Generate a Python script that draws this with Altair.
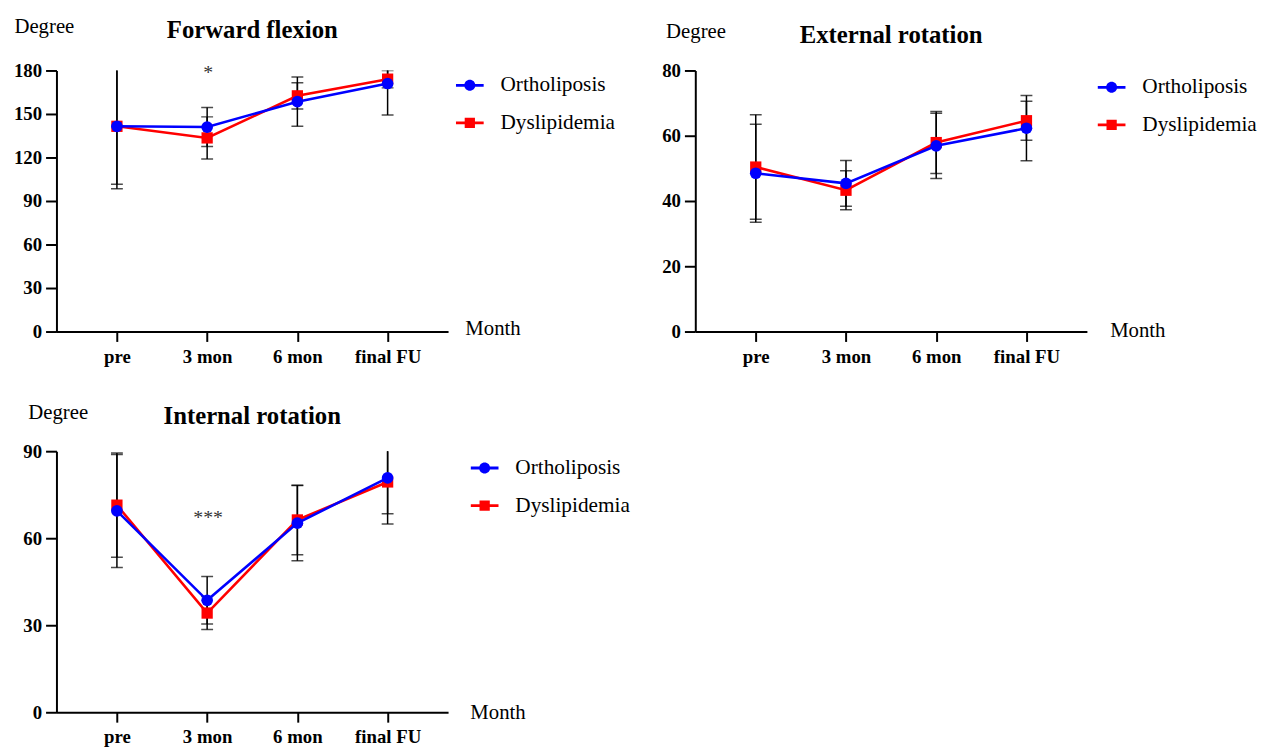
import altair as alt
import pandas as pd

FONT = "Liberation Serif"

categories = ["pre", "3 mon", "6 mon", "final FU"]
series_names = ["Ortholiposis", "Dyslipidemia"]
series_colors = ["#0000ff", "#ff0000"]

# Forward flexion
ff_orth_mean = [141.5, 141.0, 158.5, 171.0]
ff_orth_sd = [43.0, 13.5, 17.0, 21.7]
ff_dys_mean = [141.5, 133.5, 162.5, 174.0]
ff_dys_sd = [40.0, 14.5, 9.0, 6.0]

# External rotation
er_orth_mean = [48.5, 45.4, 56.9, 62.3]
er_orth_sd = [15.0, 7.0, 10.0, 10.0]
er_dys_mean = [50.4, 43.3, 57.9, 64.6]
er_dys_sd = [16.0, 6.0, 9.5, 6.0]

# Internal rotation
ir_orth_mean = [69.4, 38.6, 65.2, 80.8]
ir_orth_sd = [19.5, 8.2, 13.0, 15.9]
ir_dys_mean = [71.4, 34.2, 66.3, 79.4]
ir_dys_sd = [18.0, 5.7, 12.0, 11.0]

# significance annotations: (category, label, y in degrees)
ff_annot = [("3 mon", "*", 174)]
ir_annot = [("3 mon", "***", 65)]

CIRCLE_LEG = ("M-1,-0.1 L1,-0.1 L1,0.1 L-1,0.1 Z "
              "M0.4,0 A0.4,0.4 0 1,1 -0.4,0 A0.4,0.4 0 1,1 0.4,0 Z")
SQUARE_LEG = ("M-1,-0.1 L1,-0.1 L1,0.1 L-1,0.1 Z "
              "M-0.37,-0.37 L0.37,-0.37 L0.37,0.37 L-0.37,0.37 Z")


def make_df(om, osd, dm, dsd):
    rows = []
    for name, m, s in [("Ortholiposis", om, osd), ("Dyslipidemia", dm, dsd)]:
        for c, mv, sv in zip(categories, m, s):
            rows.append({"cat": c, "series": name, "mean": mv,
                         "lo": mv - sv, "hi": mv + sv})
    return pd.DataFrame(rows)


def panel(title, ymax, yticks, om, osd, dm, dsd, annot, degx, degy, legx, legy,
          monthx, monthy):
    df = make_df(om, osd, dm, dsd)
    xaxis = alt.Axis(title="Month", titleX=monthx, titleY=monthy, titleAlign="left",
                     titleBaseline="alphabetic", titleFont=FONT, titleFontSize=21,
                     titleFontWeight="normal", titleColor="black",
                     labelAngle=0, labelFont=FONT, labelFontSize=19,
                     labelFontWeight="bold", labelColor="black", labelPadding=6,
                     tickSize=10, tickWidth=2, tickColor="black",
                     domainColor="black", domainWidth=2, grid=False)
    yaxis = alt.Axis(values=yticks, title="Degree", titleAngle=0, titleAlign="left",
                     titleBaseline="alphabetic", titleX=degx, titleY=degy,
                     titleFont=FONT, titleFontSize=21, titleFontWeight="normal",
                     titleColor="black", labelFont=FONT, labelFontSize=19,
                     labelFontWeight="bold", labelColor="black", labelPadding=4,
                     tickSize=11, tickWidth=2, tickColor="black",
                     domainColor="black", domainWidth=2, grid=False)
    xs = alt.Scale(type="point", domain=categories, padding=0.67)
    ys = alt.Scale(domain=[0, ymax], nice=False, zero=True)
    X = alt.X("cat:N", scale=xs, axis=xaxis, sort=categories)

    base = alt.Chart(df)
    bars = base.mark_rule(color="black", strokeWidth=1.5, clip=True).encode(
        x=X, y=alt.Y("lo:Q", scale=ys, axis=yaxis), y2="hi:Q")
    cap_lo = base.mark_tick(color="black", size=12, thickness=1.5, clip=True).encode(
        x=X, y=alt.Y("lo:Q", scale=ys, axis=yaxis))
    cap_hi = base.mark_tick(color="black", size=12, thickness=1.5, clip=True).encode(
        x=X, y=alt.Y("hi:Q", scale=ys, axis=yaxis))

    def series_layers(name, color, shape, size):
        b = base.transform_filter(alt.datum.series == name)
        ln = b.mark_line(color=color, strokeWidth=2.6).encode(
            x=X, y=alt.Y("mean:Q", scale=ys, axis=yaxis))
        pt = b.mark_point(color=color, filled=True, opacity=1, shape=shape,
                          size=size).encode(x=X, y=alt.Y("mean:Q", scale=ys, axis=yaxis))
        return [ln, pt]

    leg = alt.Legend(orient="none", legendX=legx, legendY=legy, title=None,
                     labelFont=FONT, labelFontSize=21.5, labelColor="black",
                     symbolSize=784, symbolStrokeWidth=0, labelOffset=17,
                     rowPadding=13, symbolOpacity=1)
    legend_layer = base.transform_filter("false").mark_point(filled=True, opacity=1).encode(
        x=X, y=alt.Y("mean:Q", scale=ys, axis=yaxis),
        color=alt.Color("series:N", scale=alt.Scale(domain=series_names, range=series_colors), legend=leg),
        shape=alt.Shape("series:N", scale=alt.Scale(domain=series_names, range=[CIRCLE_LEG, SQUARE_LEG]), legend=leg))

    layers = [bars, cap_lo, cap_hi]
    layers += series_layers("Dyslipidemia", "#ff0000", "square", 130)
    layers += series_layers("Ortholiposis", "#0000ff", "circle", 140)
    layers.append(legend_layer)
    if annot:
        adf = pd.DataFrame([{"cat": a[0], "label": a[1], "y": a[2]} for a in annot])
        txt = alt.Chart(adf).mark_text(font=FONT, fontSize=20, color="#333333",
                                       baseline="alphabetic", align="center", dx=1).encode(
            x=X, y=alt.Y("y:Q", scale=ys, axis=yaxis), text="label:N")
        layers.append(txt)

    return alt.layer(*layers).properties(
        width=396, height=264,
        title=alt.TitleParams(title, font=FONT, fontSize=25, fontWeight="bold",
                              color="black", anchor="middle", frame="group",
                              offset=6, dy=33))


p1 = panel("Forward flexion", 180, [0, 30, 60, 90, 120, 150, 180],
           ff_orth_mean, ff_orth_sd, ff_dys_mean, ff_dys_sd, ff_annot, -43, -38, 404, 1, 413, 3)
p2 = panel("External rotation", 80, [0, 20, 40, 60, 80],
           er_orth_mean, er_orth_sd, er_dys_mean, er_dys_sd, None, -30, -33, 407, 3, 419, 5)
p3 = panel("Internal rotation", 90, [0, 30, 60, 90],
           ir_orth_mean, ir_orth_sd, ir_dys_mean, ir_dys_sd, ir_annot, -29, -33, 419, 3, 418, 6)

chart = alt.concat(p1, p2, p3, columns=2, bounds="flush",
                   spacing={"row": 121, "column": 250}).resolve_scale(
    x="independent", y="independent", color="independent", shape="independent"
).resolve_legend(color="independent", shape="independent").properties(
    padding={"left": 5, "top": 4, "right": 0, "bottom": 0}, background="white"
).configure_view(stroke=None)

chart.save("out.html", embed_options={"renderer": "svg", "actions": False})
